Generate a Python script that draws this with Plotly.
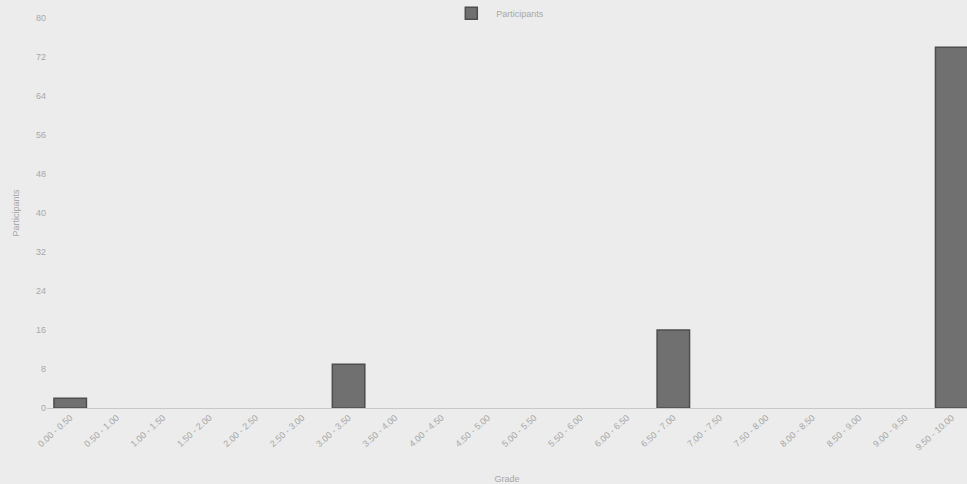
import plotly.graph_objects as go

grades = ["0.00 - 0.50", "0.50 - 1.00", "1.00 - 1.50", "1.50 - 2.00", "2.00 - 2.50",
          "2.50 - 3.00", "3.00 - 3.50", "3.50 - 4.00", "4.00 - 4.50", "4.50 - 5.00",
          "5.00 - 5.50", "5.50 - 6.00", "6.00 - 6.50", "6.50 - 7.00", "7.00 - 7.50",
          "7.50 - 8.00", "8.00 - 8.50", "8.50 - 9.00", "9.00 - 9.50", "9.50 - 10.00"]
participants = [2, 0, 0, 0, 0, 0, 9, 0, 0, 0, 0, 0, 0, 16, 0, 0, 0, 0, 0, 74]
y_ticks = [0, 8, 16, 24, 32, 40, 48, 56, 64, 72, 80]

border_widths = [1.5 if v > 0 else 0 for v in participants]

fig = go.Figure()
fig.add_trace(go.Bar(
    x=grades, y=participants, name="Participants",
    marker=dict(color="#707070", line=dict(color="#4d4d4d", width=border_widths)),
    showlegend=True,
))

font = dict(family="Liberation Sans, Arial", size=9, color="#a8a8a8")
fig.update_layout(
    width=967, height=484,
    margin=dict(l=47, r=0, t=18, b=76, autoexpand=False),
    paper_bgcolor="#ececec", plot_bgcolor="#ececec",
    bargap=0.3,
    font=font,
    showlegend=True,
    legend=dict(orientation="h", x=0.49, xanchor="center", y=1.012, yanchor="middle",
                font=dict(size=9, color="#a8a8a8"), bgcolor="rgba(0,0,0,0)",
                itemwidth=40),
    xaxis=dict(
        type="category", range=[-0.5, 19.33], tickangle=-42,
        showgrid=False, showline=True, linecolor="#c8c8c8", linewidth=1,
        ticks="", tickfont=dict(size=9, color="#a8a8a8"),
        title=dict(text="Grade", font=dict(size=9, color="#a8a8a8"), standoff=24),
    ),
    yaxis=dict(
        range=[0, 80], tickvals=y_ticks, showgrid=False, zeroline=False,
        showline=False, ticks="", tickfont=dict(size=9, color="#a8a8a8"),
        title=dict(text="Participants", font=dict(size=9, color="#a8a8a8"), standoff=14),
    ),
)
fig.write_html("out.html", config={"displayModeBar": False},
               post_script="document.body.style.margin='0';")
